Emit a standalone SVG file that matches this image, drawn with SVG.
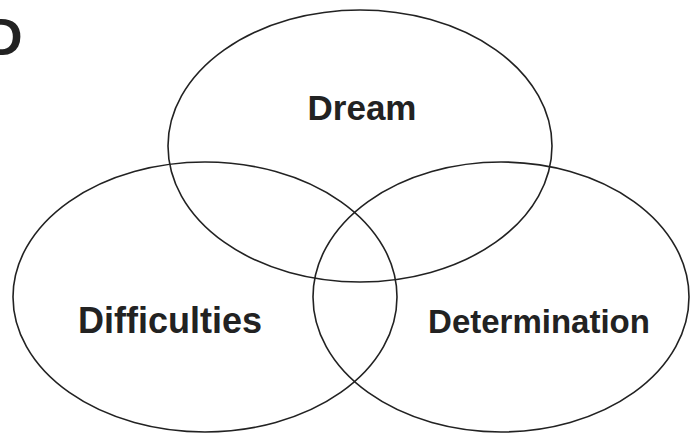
<svg xmlns="http://www.w3.org/2000/svg" width="690" height="435" viewBox="0 0 690 435">
<style>
.c{fill:none;stroke:#222;stroke-width:1.6}
.t{font-family:"Liberation Sans",Arial,sans-serif;font-weight:bold;fill:#222;text-anchor:middle}
</style>
<rect width="690" height="435" fill="#fff"/>
<text x="-15" y="55" font-family="Liberation Sans,Arial,sans-serif" font-weight="bold" font-size="52" fill="#222">D</text>
<g id="dream"><ellipse class="c" cx="360" cy="146" rx="192" ry="136"/><text class="t" x="362" y="120" font-size="35">Dream</text></g>
<g id="difficulties"><ellipse class="c" cx="205" cy="297" rx="192" ry="135"/><text class="t" x="170" y="333" font-size="36">Difficulties</text></g>
<g id="determination"><ellipse class="c" cx="501" cy="297" rx="188" ry="135"/><text class="t" x="539" y="333" font-size="33">Determination</text></g>
<g id="connectors"/>
</svg>
